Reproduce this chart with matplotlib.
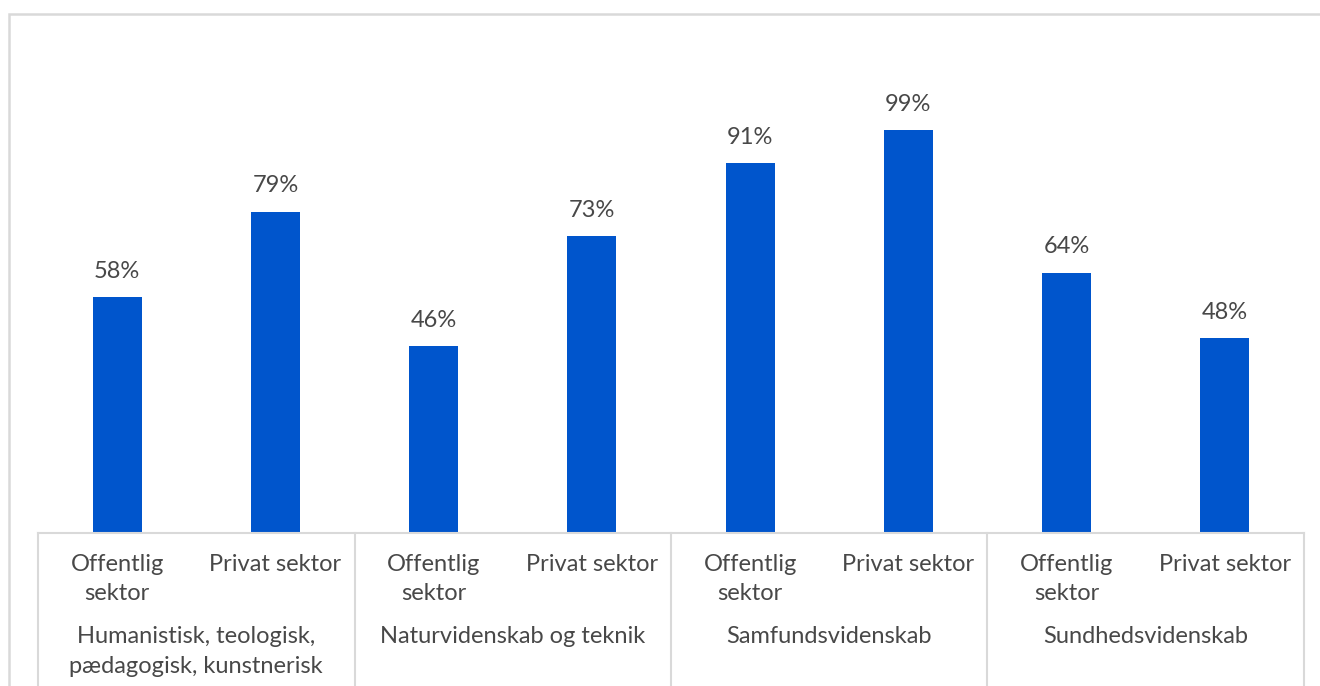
import matplotlib.pyplot as plt
from matplotlib.patches import Rectangle
from matplotlib.lines import Line2D

# data
groups = ["Humanistisk, teologisk,\npædagogisk, kunstnerisk",
          "Naturvidenskab og teknik",
          "Samfundsvidenskab",
          "Sundhedsvidenskab"]
sectors = ["Offentlig\nsektor", "Privat sektor"]
values = [58, 79, 46, 73, 91, 99, 64, 48]

bar_color = "#0055CC"
text_color = "#484848"
grid_color = "#d9d9d9"
font = "Lato"
fsize = 17

W, H = 1320, 686
fig = plt.figure(figsize=(W / 100, H / 100), dpi=100)

# axes placed in pixel terms
ax_left, ax_right = 38, 1304
ax_bottom, ax_top = 533, 45
ax = fig.add_axes([ax_left / W, 1 - ax_bottom / H,
                   (ax_right - ax_left) / W, (ax_bottom - ax_top) / H])

x = list(range(len(values)))
ax.bar(x, values, width=0.31, color=bar_color)
ax.set_xlim(-0.5, len(values) - 0.5)
ax.set_ylim(0, 120)
ax.axis("off")

for xi, v in zip(x, values):
    ax.annotate(f"{v}%", (xi, v), xytext=(0, 11), textcoords="offset points",
                ha="center", va="bottom", fontsize=fsize, color=text_color,
                family=font)

# category axis: sub labels and group labels
for i, xi in enumerate(x):
    ax.annotate(sectors[i % 2], (xi, 0), xytext=(0, -15), textcoords="offset points",
                ha="center", va="top", fontsize=fsize, color=text_color,
                family=font, linespacing=1.5, annotation_clip=False)
for g, name in enumerate(groups):
    ax.annotate(name, (2 * g + 0.5, 0), xytext=(0, -67), textcoords="offset points",
                ha="center", va="top", fontsize=fsize, color=text_color,
                family=font, linespacing=1.5, annotation_clip=False)

# axis line and separators, in figure pixel coords
def px_line(x0, y0, x1, y1, lw=1.5):
    fig.add_artist(Line2D([x0 / W, x1 / W], [1 - y0 / H, 1 - y1 / H],
                          color=grid_color, lw=lw, transform=fig.transFigure))

px_line(ax_left, ax_bottom, ax_right, ax_bottom)
for g in range(5):
    sx = ax_left + g * (ax_right - ax_left) / 4
    px_line(sx, ax_bottom, sx, H + 5)

# outer chart frame
fig.add_artist(Rectangle((9 / W, -0.1), 1.1, 1 - 14 / H + 0.1,
                         transform=fig.transFigure, fill=False,
                         edgecolor=grid_color, lw=1.8))

fig.savefig("out.png", dpi=100)
